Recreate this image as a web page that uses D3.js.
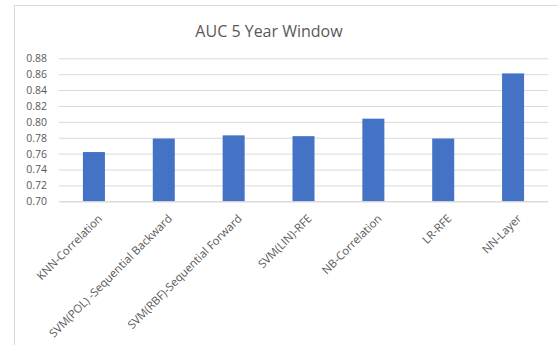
<!DOCTYPE html>
<html>
<head>
<meta charset="utf-8">
<script src="https://cdn.jsdelivr.net/npm/d3@7"></script>
<style>
  html, body { margin: 0; padding: 0; background: #fff; }
  svg { display: block; }
  text { font-family: "Open Sans", "Noto Sans", sans-serif; fill: #595959; }
</style>
</head>
<body>
<svg id="chart" width="558" height="345"></svg>
<script>
// AUC per model / feature-selection pair, 5-year window
const categories = [
  "KNN-Correlation",
  "SVM(POL) -Sequential Backward",
  "SVM(RBF)-Sequential Forward",
  "SVM(LIN)-RFE",
  "NB-Correlation",
  "LR-RFE",
  "NN-Layer"
];
const aucValues = [0.762, 0.779, 0.783, 0.782, 0.804, 0.779, 0.861];
const yTicks = [0.70, 0.72, 0.74, 0.76, 0.78, 0.80, 0.82, 0.84, 0.86, 0.88];
const chartTitle = "AUC 5 Year Window";

const svg = d3.select("#chart");
const plot = { left: 59, right: 548, top: 58.3, bottom: 201.3 };

// outer chart frame
svg.append("rect")
  .attr("x", 14.5).attr("y", 5.5)
  .attr("width", 600).attr("height", 400)
  .attr("fill", "#fff")
  .attr("stroke", "#d9d9d9").attr("stroke-width", 1);

svg.append("text")
  .attr("x", 269).attr("y", 37)
  .attr("text-anchor", "middle")
  .attr("font-size", 16)
  .text(chartTitle);

const x = d3.scaleBand().domain(categories).range([plot.left, plot.right]).padding(0);
const y = d3.scaleLinear().domain([0.70, 0.88]).range([plot.bottom, plot.top]);

// horizontal gridlines + y labels
const yAxis = d3.axisLeft(y).tickValues(yTicks).tickFormat(d3.format(".2f"))
  .tickSize(-(plot.right - plot.left)).tickPadding(12);
const gy = svg.append("g").attr("transform", `translate(${plot.left},0)`).call(yAxis);
gy.select(".domain").remove();
gy.selectAll(".tick line").attr("stroke", "#d9d9d9").attr("stroke-width", 1);
gy.selectAll(".tick text").attr("font-size", 10.5).attr("fill", "#595959")
  .attr("font-family", "\"Open Sans\", sans-serif");

// bars
const barW = x.bandwidth() * 0.315;
svg.append("g").selectAll("rect")
  .data(categories.map((c, i) => ({ c, v: aucValues[i] })))
  .join("rect")
  .attr("x", d => x(d.c) + x.bandwidth() / 2 - barW / 2)
  .attr("y", d => y(d.v))
  .attr("width", barW)
  .attr("height", d => y(0.70) - y(d.v))
  .attr("fill", "#4472c4");

// category axis with rotated labels
const xAxis = d3.axisBottom(x).tickSize(0).tickPadding(0);
const gx = svg.append("g").attr("transform", `translate(0,${plot.bottom})`).call(xAxis);
gx.select(".domain").attr("stroke", "#d9d9d9");
gx.selectAll(".tick text")
  .attr("font-size", 11.3)
  .attr("fill", "#595959")
  .attr("font-family", "\"Open Sans\", sans-serif")
  .attr("text-anchor", "end")
  .attr("y", 0)
  .attr("dy", 0)
  .attr("transform", "translate(9,18) rotate(-45)");
</script>
</body>
</html>
